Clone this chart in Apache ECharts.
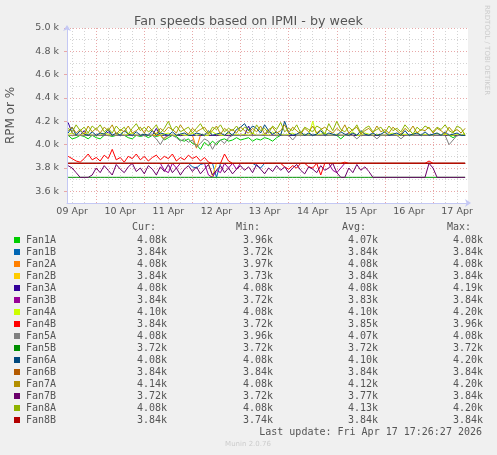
<!DOCTYPE html>
<html>
<head>
<meta charset="utf-8">
<script src="https://cdn.jsdelivr.net/npm/echarts@6/dist/echarts.min.js"></script>
<style>
  html, body { margin: 0; padding: 0; background: #f0f0f0; }
  #chart { width: 497px; height: 455px; }
</style>
</head>
<body>
<div id="chart"></div>
<script>
// x = hours since 09 Apr 00:00, one sample every 2 hours from 09 Apr 10:00
const startHour = 10;
const stepHours = 2;
const xMin = 9.44;   // 09 Apr 09:26
const xMax = 209.44; // 17 Apr 17:26

const dayLabels = ['09 Apr', '10 Apr', '11 Apr', '12 Apr', '13 Apr', '14 Apr', '15 Apr', '16 Apr', '17 Apr'];
const yTicks = [3600, 3800, 4000, 4200, 4400, 4600, 4800, 5000];

const names = ['Fan1A', 'Fan1B', 'Fan2A', 'Fan2B', 'Fan3A', 'Fan3B', 'Fan4A', 'Fan4B',
  'Fan5A', 'Fan5B', 'Fan6A', 'Fan6B', 'Fan7A', 'Fan7B', 'Fan8A', 'Fan8B'];
const colors = ['#00cc00', '#0066b3', '#ff8000', '#ffcc00', '#330099', '#990099', '#ccff00', '#ff0000',
  '#808080', '#008f00', '#00487d', '#b35a00', '#b38f00', '#6b006b', '#8fb300', '#b30000'];

const curText = ['4.08k', '3.84k', '4.08k', '3.84k', '4.08k', '3.84k', '4.10k', '3.84k', '4.08k', '3.72k', '4.08k', '3.84k', '4.14k', '3.72k', '4.08k', '3.84k'];
const minText = ['3.96k', '3.72k', '3.97k', '3.73k', '4.08k', '3.72k', '4.08k', '3.72k', '3.96k', '3.72k', '4.08k', '3.84k', '4.08k', '3.72k', '4.08k', '3.74k'];
const avgText = ['4.07k', '3.84k', '4.08k', '3.84k', '4.08k', '3.83k', '4.10k', '3.85k', '4.07k', '3.72k', '4.10k', '3.84k', '4.12k', '3.77k', '4.13k', '3.84k'];
const maxText = ['4.08k', '3.84k', '4.08k', '3.84k', '4.19k', '3.84k', '4.20k', '3.96k', '4.08k', '3.72k', '4.20k', '3.84k', '4.20k', '3.84k', '4.20k', '3.84k'];

// rows: 09 Apr (7), 10..16 Apr (12 each), 17 Apr (9)
const fan1A = [4080,4050,4060,4080,4070,4050,4080,
  4060,4050,4080,4080,4070,4080,4080,4080,4060,4050,4080,4070,
  4080,4060,4080,4070,4080,4040,4060,4080,4070,4040,4030,4050,
  4010,4000,3960,4020,3990,4030,4000,4040,4050,4030,4040,4060,
  4040,4050,4060,4030,4050,4040,4060,4050,4030,4060,4080,4080,
  4080,4080,4080,4080,4080,4080,4080,4080,4080,4080,4080,4080,
  4080,4050,4080,4080,4080,4080,4080,4080,4080,4080,4080,4080,
  4080,4080,4080,4080,4080,4080,4080,4080,4080,4080,4080,4080,
  4080,4080,4080,4080,4080,4060,4080,4080,4080];
const fan1B = [3840,3840,3840,3840,3840,3840,3840,
  3840,3840,3840,3840,3840,3840,3840,3840,3840,3840,3840,3840,
  3840,3840,3840,3840,3840,3840,3840,3840,3840,3840,3840,3840,
  3810,3800,3830,3840,3840,3840,3720,3840,3840,3840,3840,3840,
  3840,3840,3840,3840,3820,3800,3840,3840,3840,3840,3840,3840,
  3840,3840,3840,3840,3840,3840,3840,3840,3840,3840,3840,3840,
  3840,3840,3840,3840,3840,3840,3840,3840,3840,3840,3840,3840,
  3840,3840,3840,3840,3840,3840,3840,3840,3840,3840,3840,3840,
  3840,3840,3840,3840,3840,3840,3840,3840,3840];
const fan2A = [4080,4080,4080,4080,4080,4080,4080,
  4080,4080,4080,4080,4080,4080,4080,4080,4080,4080,4080,4080,
  4080,4080,4080,4080,4080,4050,4080,4080,4080,4080,4080,4080,
  4080,3970,4080,4080,4080,4080,4080,4080,4080,4080,4080,4080,
  4080,4080,4080,4080,4080,4080,4080,4080,4080,4080,4080,4080,
  4080,4080,4080,4080,4080,4080,4080,4080,4080,4080,4080,4080,
  4080,4080,4080,4080,4080,4080,4080,4080,4080,4080,4080,4080,
  4080,4080,4080,4080,4080,4080,4080,4080,4080,4080,4080,4080,
  4080,4080,4080,4080,4080,4080,4080,4080,4080];
const fan2B = [3840,3840,3840,3840,3840,3840,3840,
  3840,3840,3840,3840,3840,3840,3840,3840,3840,3840,3840,3840,
  3840,3840,3840,3840,3840,3840,3840,3840,3840,3840,3840,3840,
  3840,3840,3840,3840,3840,3730,3840,3840,3840,3840,3840,3840,
  3840,3840,3840,3840,3840,3840,3840,3840,3840,3840,3840,3840,
  3840,3840,3840,3840,3840,3840,3840,3840,3840,3840,3840,3840,
  3840,3840,3840,3840,3840,3840,3840,3840,3840,3840,3840,3840,
  3840,3840,3840,3840,3840,3840,3840,3840,3840,3840,3840,3840,
  3840,3840,3840,3840,3840,3840,3840,3840,3840];
const fan3A = [4190,4100,4080,4080,4120,4080,4080,
  4080,4080,4080,4110,4080,4080,4080,4080,4080,4080,4080,4080,
  4080,4080,4080,4140,4080,4080,4080,4080,4080,4080,4080,4080,
  4080,4080,4080,4080,4080,4080,4080,4080,4080,4080,4080,4080,
  4080,4080,4160,4080,4080,4080,4080,4120,4080,4080,4080,4080,
  4080,4080,4080,4080,4080,4080,4080,4080,4080,4080,4080,4080,
  4080,4080,4080,4100,4080,4080,4080,4080,4080,4080,4080,4080,
  4080,4080,4080,4080,4080,4080,4080,4080,4080,4080,4080,4080,
  4080,4080,4080,4080,4080,4080,4080,4080,4080];
const fan3B = [3840,3840,3840,3840,3840,3840,3840,
  3840,3840,3840,3840,3840,3840,3840,3840,3840,3840,3840,3840,
  3840,3840,3840,3840,3840,3780,3760,3840,3800,3840,3840,3840,
  3840,3840,3840,3840,3740,3720,3780,3760,3840,3800,3840,3790,
  3840,3840,3840,3840,3840,3840,3840,3840,3840,3840,3840,3840,
  3840,3840,3840,3840,3840,3840,3840,3840,3840,3840,3840,3780,
  3760,3800,3840,3840,3840,3840,3840,3840,3840,3840,3840,3840,
  3840,3840,3840,3840,3840,3840,3840,3840,3840,3840,3840,3840,
  3840,3840,3840,3840,3840,3840,3840,3840,3840];
const fan4A = [4090,4100,4080,4080,4100,4090,4080,
  4080,4080,4100,4090,4080,4080,4110,4080,4090,4100,4080,4080,
  4090,4080,4080,4100,4080,4090,4100,4080,4080,4090,4080,4080,
  4100,4080,4090,4080,4080,4110,4090,4080,4080,4100,4080,4090,
  4080,4090,4080,4100,4080,4080,4090,4080,4110,4080,4090,4080,
  4090,4100,4080,4080,4090,4080,4200,4080,4090,4100,4080,4080,
  4090,4080,4080,4090,4110,4080,4080,4100,4090,4080,4090,4080,
  4080,4090,4100,4080,4080,4090,4080,4080,4110,4080,4090,4080,
  4080,4100,4080,4090,4080,4080,4090,4080,4100];
const fan4B = [3900,3880,3860,3850,3880,3920,3870,
  3890,3860,3910,3880,3960,3870,3890,3850,3900,3880,3920,3870,
  3900,3860,3890,3910,3870,3900,3880,3920,3860,3890,3870,3910,
  3880,3900,3860,3890,3850,3840,3840,3840,3920,3860,3840,3840,
  3840,3840,3840,3840,3840,3840,3840,3840,3840,3840,3840,3810,
  3790,3820,3800,3840,3840,3810,3800,3840,3740,3840,3840,3840,
  3840,3840,3850,3840,3840,3840,3840,3840,3840,3840,3840,3840,
  3840,3840,3840,3840,3840,3840,3840,3840,3840,3840,3840,3860,
  3840,3840,3840,3840,3840,3840,3840,3840,3840];
const fan5A = [4080,4080,4080,4080,4080,4080,4080,
  4080,4080,4080,4080,4080,4080,4080,4080,4080,4080,4080,4080,
  4080,4080,4080,4050,4000,4060,4080,4080,4060,4030,4050,4020,
  4040,3980,4010,4050,4030,3960,4020,4040,4010,4060,4080,4080,
  4080,4080,4080,4080,4080,4080,4080,4080,4080,4080,4080,4080,
  4080,4040,4080,4080,4080,4080,4080,4080,4080,4080,4080,4080,
  4080,4080,4080,4080,4080,4050,4080,4080,4080,4080,4050,4080,
  4080,4080,4080,4080,4050,4080,4080,4080,4080,4080,4080,4080,
  4080,4080,4080,4080,4000,4040,4080,4080,4080];
const fan5B = [3720,3720,3720,3720,3720,3720,3720,
  3720,3720,3720,3720,3720,3720,3720,3720,3720,3720,3720,3720,
  3720,3720,3720,3720,3720,3720,3720,3720,3720,3720,3720,3720,
  3720,3720,3720,3720,3720,3720,3720,3720,3720,3720,3720,3720,
  3720,3720,3720,3720,3720,3720,3720,3720,3720,3720,3720,3720,
  3720,3720,3720,3720,3720,3720,3720,3720,3720,3720,3720,3720,
  3720,3720,3720,3720,3720,3720,3720,3720,3720,3720,3720,3720,
  3720,3720,3720,3720,3720,3720,3720,3720,3720,3720,3720,3720,
  3720,3720,3720,3720,3720,3720,3720,3720,3720];
const fan6A = [4100,4150,4080,4120,4090,4080,4110,
  4080,4100,4090,4130,4080,4100,4080,4120,4090,4080,4110,4080,
  4090,4080,4120,4080,4100,4090,4080,4110,4080,4090,4100,4080,
  4080,4100,4090,4080,4120,4080,4090,4100,4080,4110,4080,4130,
  4150,4180,4120,4160,4140,4100,4170,4120,4090,4110,4080,4200,
  4100,4080,4090,4110,4080,4100,4080,4090,4120,4080,4100,4090,
  4080,4110,4090,4080,4100,4080,4120,4090,4080,4100,4080,4090,
  4110,4080,4090,4100,4080,4120,4080,4090,4100,4080,4110,4080,
  4090,4100,4080,4110,4080,4090,4100,4080,4080];
const fan6B = [3840,3840,3840,3840,3840,3840,3840,
  3840,3840,3840,3840,3840,3840,3840,3840,3840,3840,3840,3840,
  3840,3840,3840,3840,3840,3840,3840,3840,3840,3840,3840,3840,
  3840,3840,3840,3840,3840,3840,3840,3840,3840,3840,3840,3840,
  3840,3840,3840,3840,3840,3840,3840,3840,3840,3840,3840,3840,
  3840,3840,3840,3840,3840,3840,3840,3840,3840,3840,3840,3840,
  3840,3840,3840,3840,3840,3840,3840,3840,3840,3840,3840,3840,
  3840,3840,3840,3840,3840,3840,3840,3840,3840,3840,3840,3840,
  3840,3840,3840,3840,3840,3840,3840,3840,3840];
const fan7A = [4120,4150,4100,4130,4090,4160,4110,
  4140,4100,4150,4120,4170,4090,4130,4110,4160,4100,4120,4150,
  4100,4160,4120,4090,4140,4110,4150,4130,4100,4170,4120,4090,
  4140,4110,4130,4150,4100,4120,4160,4090,4140,4110,4130,4100,
  4150,4120,4100,4140,4110,4160,4090,4130,4150,4100,4120,4170,
  4100,4150,4120,4090,4140,4110,4160,4100,4130,4150,4120,4100,
  4140,4110,4170,4100,4130,4150,4090,4120,4140,4100,4160,4110,
  4130,4100,4150,4120,4090,4140,4110,4160,4100,4130,4120,4150,
  4100,4140,4120,4090,4150,4110,4130,4100,4140];
const fan7B = [3820,3800,3760,3720,3720,3720,3740,
  3800,3760,3820,3780,3740,3830,3790,3760,3810,3840,3770,3800,
  3750,3820,3790,3740,3810,3770,3830,3760,3800,3740,3790,3820,
  3770,3810,3750,3790,3830,3740,3780,3820,3760,3800,3750,3790,
  3820,3780,3810,3760,3830,3790,3750,3800,3770,3820,3780,3810,
  3760,3800,3830,3780,3750,3810,3790,3760,3820,3780,3800,3840,
  3760,3720,3720,3800,3760,3830,3780,3810,3770,3720,3720,3720,
  3720,3720,3720,3720,3720,3720,3720,3720,3720,3720,3720,3840,
  3800,3720,3720,3720,3720,3720,3720,3720,3720];
const fan8A = [4140,4110,4170,4120,4150,4100,4160,
  4130,4170,4110,4140,4100,4160,4120,4150,4090,4140,4180,4120,
  4150,4110,4130,4170,4100,4140,4200,4120,4160,4110,4130,4150,
  4100,4140,4180,4120,4090,4150,4130,4170,4110,4140,4120,4160,
  4110,4150,4130,4090,4170,4120,4140,4100,4160,4130,4190,4110,
  4140,4120,4170,4100,4150,4130,4110,4160,4140,4090,4180,4120,
  4200,4130,4110,4150,4120,4170,4100,4140,4160,4110,4130,4150,
  4100,4160,4120,4140,4110,4170,4130,4090,4150,4120,4160,4140,
  4110,4150,4130,4170,4120,4100,4160,4140,4080];
const fan8B = [3840,3840,3840,3840,3840,3840,3840,
  3840,3840,3840,3840,3840,3840,3840,3840,3840,3840,3840,3840,
  3840,3840,3840,3840,3840,3840,3840,3840,3840,3840,3840,3840,
  3840,3840,3840,3840,3840,3840,3840,3840,3840,3840,3840,3840,
  3840,3840,3840,3840,3840,3840,3840,3840,3840,3840,3840,3840,
  3840,3840,3840,3840,3840,3840,3840,3840,3840,3840,3840,3840,
  3840,3840,3840,3840,3840,3840,3840,3840,3840,3840,3840,3840,
  3840,3840,3840,3840,3840,3840,3840,3840,3840,3840,3840,3840,
  3840,3840,3840,3840,3840,3840,3840,3840,3840];

const seriesValues = [fan1A, fan1B, fan2A, fan2B, fan3A, fan3B, fan4A, fan4B,
  fan5A, fan5B, fan6A, fan6B, fan7A, fan7B, fan8A, fan8B];

const FONT = '"DejaVu Sans", sans-serif';
const MONO = '"DejaVu Sans Mono", monospace';
const textColor = '#555';
const majorGrid = '#e8a8a8';
const minorGrid = '#d4d4d4';
const axisColor = '#c4c8f4';

// grid line positions
const midnights = [];
const sixHours = [];
for (let h = 0; h <= 216; h += 6) {
  if (h % 24 === 0) midnights.push(h); else sixHours.push(h);
}
const noons = dayLabels.map((d, i) => 12 + i * 24);
const minorY = [3700, 3900, 4100, 4300, 4500, 4700, 4900];

const chart = echarts.init(document.getElementById('chart'));

const series = names.map((name, i) => ({
  name: name,
  type: 'line',
  symbol: 'none',
  color: colors[i],
  lineStyle: { width: 1 },
  emphasis: { disabled: true },
  data: seriesValues[i].map((v, k) => [startHour + k * stepHours, v]),
}));

// legend table below the plot
const graphic = [];
const headY = 227;
const rowY0 = 240;
const rowH = 12;
const colRight = [167, 273, 378, 483];
const headers = [['Cur:', 132], ['Min:', 236], ['Avg:', 342], ['Max:', 447]];
headers.forEach(([t, x]) => {
  graphic.push({ type: 'text', x: x, y: headY,
    style: { text: t, fill: textColor, font: '10px ' + MONO, verticalAlign: 'middle' } });
});
names.forEach((name, i) => {
  const y = rowY0 + i * rowH;
  graphic.push({ type: 'rect', shape: { x: 14, y: y - 3, width: 6, height: 6 }, style: { fill: colors[i] } });
  graphic.push({ type: 'text', x: 26, y: y,
    style: { text: name, fill: textColor, font: '10px ' + MONO, verticalAlign: 'middle' } });
  [curText, minText, avgText, maxText].forEach((col, c) => {
    graphic.push({ type: 'text', x: colRight[c], y: y,
      style: { text: col[i], fill: textColor, font: '10px ' + MONO, align: 'right', verticalAlign: 'middle' } });
  });
});
graphic.push({ type: 'text', x: 482, y: 432,
  style: { text: 'Last update: Fri Apr 17 17:26:27 2026', fill: textColor, font: '10px ' + MONO, align: 'right', verticalAlign: 'middle' } });
graphic.push({ type: 'text', x: 248, y: 444,
  style: { text: 'Munin 2.0.76', fill: '#cccccc', font: '7px ' + FONT, align: 'center', verticalAlign: 'middle' } });
graphic.push({ type: 'text', x: 487, y: 5, rotation: -Math.PI / 2,
  style: { text: 'RRDTOOL / TOBI OETIKER', fill: '#cccccc', font: '7px ' + FONT, align: 'left', verticalAlign: 'middle' } });

const option = {
  animation: false,
  backgroundColor: '#f0f0f0',
  title: {
    text: 'Fan speeds based on IPMI - by week',
    left: 'center',
    top: 10,
    textStyle: { color: textColor, fontSize: 12.7, fontWeight: 'normal', fontFamily: FONT },
  },
  grid: {
    left: 67, right: 29, top: 28, bottom: 252,
    outerBoundsMode: 'none',
    show: true, backgroundColor: '#ffffff', borderWidth: 0,
  },
  xAxis: [
    {
      type: 'value', position: 'bottom', min: xMin, max: xMax,
      axisLine: { show: false },
      axisLabel: { show: false },
      axisTick: { show: false, customValues: sixHours },
      splitLine: { show: true, lineStyle: { color: minorGrid, type: [1, 2] } },
    },
    {
      type: 'value', position: 'bottom', min: xMin, max: xMax,
      axisLine: { show: true, onZero: false, symbol: ['none', 'arrow'], symbolSize: [6, 6], symbolOffset: [0, 3],
        lineStyle: { color: axisColor } },
      axisTick: { show: false, customValues: midnights },
      axisLabel: {
        customValues: noons, margin: 4,
        color: textColor, fontSize: 9.5, fontFamily: FONT,
        formatter: (v) => dayLabels[Math.round((v - 12) / 24)],
      },
      splitLine: { show: true, lineStyle: { color: majorGrid, type: [1, 2] } },
    },
  ],
  yAxis: [
    {
      type: 'value', position: 'left', min: 3500, max: 5000,
      axisLine: { show: false },
      axisLabel: { show: false },
      axisTick: { show: false, customValues: minorY },
      splitLine: { show: true, lineStyle: { color: minorGrid, type: [1, 2] } },
    },
    {
      type: 'value', position: 'left', min: 3500, max: 5000,
      name: 'RPM or %', nameLocation: 'middle', nameGap: 50,
      nameTextStyle: { color: textColor, fontSize: 12, fontFamily: FONT },
      axisLine: { show: true, onZero: false, symbol: ['none', 'arrow'], symbolSize: [6, 6], symbolOffset: [0, 3],
        lineStyle: { color: axisColor } },
      axisTick: { show: true, length: 3, customValues: yTicks, lineStyle: { color: majorGrid } },
      axisLabel: {
        customValues: yTicks, margin: 8,
        color: textColor, fontSize: 9.5, fontFamily: FONT,
        formatter: (v) => (v / 1000).toFixed(1) + ' k',
      },
      splitLine: { show: true, lineStyle: { color: majorGrid, type: [1, 2] } },
    },
  ],
  series: series,
  graphic: graphic,
};

chart.setOption(option);
</script>
</body>
</html>
